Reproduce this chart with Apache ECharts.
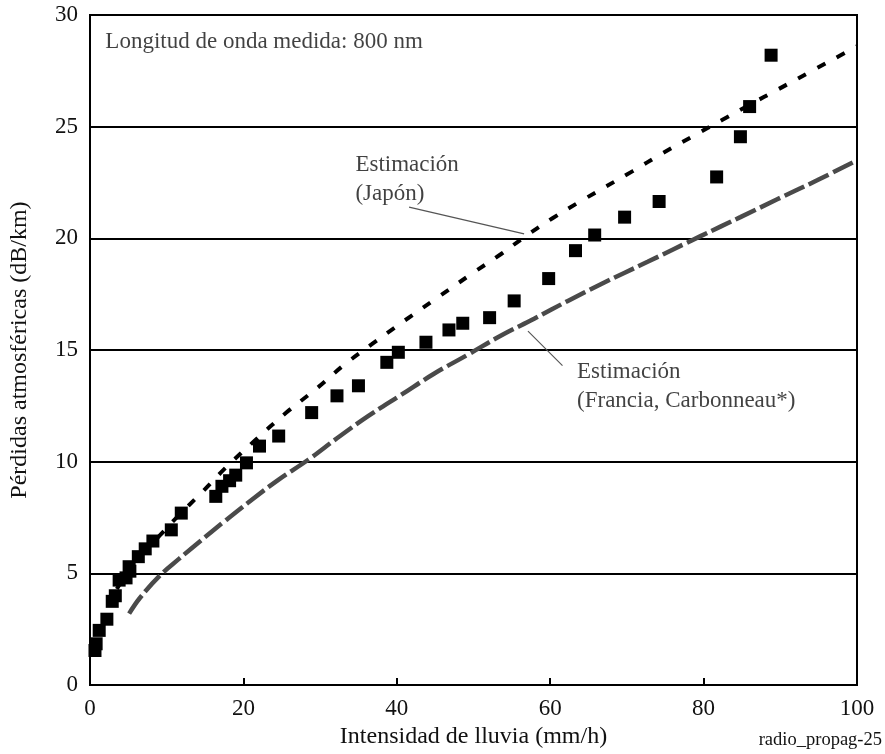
<!DOCTYPE html>
<html><head><meta charset="utf-8">
<script src="https://cdn.jsdelivr.net/npm/echarts@6/dist/echarts.min.js"></script>
<style>html,body{margin:0;padding:0;background:#fff}#c{width:885px;height:754px}</style>
</head><body><div id="c"></div>
<script>
const xTicks = [0, 20, 40, 60, 80, 100];
const measured = [
  [0.65,1.55],[0.8,1.85],[1.2,2.45],[2.2,2.95],[2.9,3.75],[3.3,4.0],[3.8,4.7],[4.7,4.8],[5.2,5.1],[5.1,5.3],
  [6.3,5.75],[7.2,6.1],[8.2,6.45],[10.6,6.95],[11.9,7.7],[16.4,8.45],[17.2,8.9],[18.2,9.15],[19.0,9.4],[20.4,9.95],
  [22.1,10.7],[24.6,11.15],[28.9,12.2],[32.2,12.95],[35.0,13.4],[38.7,14.45],[40.2,14.9],[43.8,15.35],[46.8,15.9],[48.6,16.2],
  [52.1,16.45],[55.3,17.2],[59.8,18.2],[63.3,19.45],[65.8,20.15],[69.7,20.95],[74.2,21.65],[81.7,22.75],[84.8,24.55],[86.0,25.9],[88.8,28.2]
];
const japan = [
  [3.5,4.3],[6,5.6],[9.1,6.7],[11,7.4],[14.8,8.7],[17.6,9.7],[21.5,10.95],[25.6,12.2],[29.8,13.35],[33.0,14.3],[36.7,15.25],
  [39.7,16.0],[44.7,17.2],[49.7,18.4],[53.6,19.3],[56.4,20.0],[60.3,20.9],[64.4,21.75],
  [70.7,23.0],[74.6,23.8],[78.5,24.55],[82.4,25.3],[86.1,26.0],[89.6,26.65],[93.6,27.4],[98.4,28.3],[100,28.6]
];
const france = [
  [5.1,3.2],[6.5,3.9],[9.1,4.9],[11.6,5.65],[14.2,6.4],[17.6,7.35],[21.1,8.3],[24.6,9.2],[28.5,10.1],[32.2,11.05],
  [36.3,12.05],[40.6,13.0],[44.9,13.95],[49.3,14.8],[53.6,15.65],[57.9,16.4],[62.3,17.2],[66.6,17.95],[72.7,18.95],
  [79.6,20.1],[84.8,20.95],[89.6,21.75],[94.8,22.6],[100,23.5]
];
const leaderJapan = [[41.6,21.4],[56.6,20.2]];
const leaderFrance = [[57.1,15.85],[61.6,14.3]];
const notes = [
  {pos:[2.0,28.8], text:'Longitud de onda medida: 800 nm'},
  {pos:[34.6,22.63], text:'Estimación\n(Japón)'},
  {pos:[63.5,13.35], text:'Estimación\n(Francia, Carbonneau*)'}
];
const figId = 'radio_propag-25';
const FONT = 'Liberation Serif';
const chart = echarts.init(document.getElementById('c'));
chart.setOption({
  animation:false,
  backgroundColor:'#fff',
  grid:{left:88,right:28,top:15,bottom:67,show:true,borderColor:'#000',borderWidth:2,backgroundColor:'transparent'},
  graphic:[{type:'text',right:3,bottom:4,style:{text:figId,fontFamily:FONT,fontSize:18.5,fill:'#111'}}],
  xAxis:{type:'value',min:0,max:100,interval:20,
    name:'Intensidad de lluvia (mm/h)',nameLocation:'middle',nameGap:35,
    nameTextStyle:{fontFamily:FONT,fontSize:24,color:'#111'},
    axisLine:{lineStyle:{color:'#000',width:2}},
    axisTick:{inside:true,length:7,lineStyle:{color:'#000',width:2}},
    axisLabel:{fontFamily:FONT,fontSize:23,color:'#111',margin:12,formatter:v=>xTicks.includes(v)?String(v):''},
    splitLine:{show:false}},
  yAxis:{type:'value',min:0,max:30,interval:5,
    name:'Pérdidas atmosféricas (dB/km)',nameLocation:'middle',nameGap:58,
    nameTextStyle:{fontFamily:FONT,fontSize:24,color:'#111'},
    axisLine:{lineStyle:{color:'#000',width:2}},
    axisTick:{show:false},
    axisLabel:{fontFamily:FONT,fontSize:23,color:'#111',margin:12},
    splitLine:{show:true,lineStyle:{color:'#000',width:2}}},
  series:[
    {type:'line',data:france,smooth:0.4,symbol:'none',clip:false,
      lineStyle:{color:'#4a4a4a',width:4.5,type:[22,5]},z:2},
    {type:'line',data:japan,smooth:0.4,symbol:'none',clip:false,
      lineStyle:{color:'#000',width:4,type:[9,13]},z:3},
    {type:'scatter',data:measured,symbol:'rect',symbolSize:13,itemStyle:{color:'#000',opacity:1},z:4},
    {type:'line',data:leaderJapan,symbol:'none',lineStyle:{color:'#555',width:1.2},z:5},
    {type:'line',data:leaderFrance,symbol:'none',lineStyle:{color:'#555',width:1.2},z:5},
    {type:'scatter',symbolSize:0,z:6,silent:true,
      data:notes.map(n=>({value:n.pos,label:{show:true,position:'right',distance:0,formatter:n.text,
        fontFamily:FONT,fontSize:23,color:'#111',lineHeight:29,align:'left',verticalAlign:'middle'}}))}
  ]
});
</script></body></html>
